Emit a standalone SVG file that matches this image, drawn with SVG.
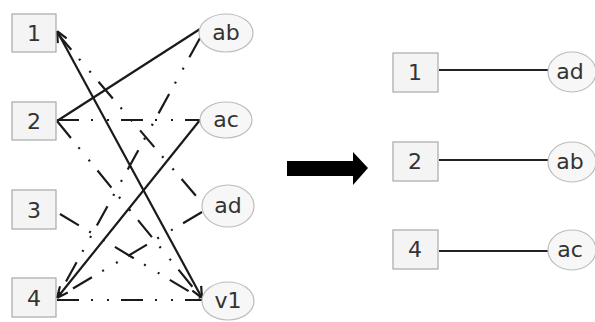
<svg xmlns="http://www.w3.org/2000/svg" width="595" height="322" viewBox="0 0 595 322">
<style>
.box{fill:#f4f4f4;stroke:#a8a8a8;stroke-width:1.2}
.ell{fill:#f7f7f7;stroke:#bcbcbc;stroke-width:1.2}
.t{font-family:"DejaVu Sans","Open Sans",sans-serif;font-size:22px;fill:#333;text-anchor:middle;dominant-baseline:central}
.s{stroke:#1a1a1a;stroke-width:2.2;fill:none}
.d{stroke:#1a1a1a;stroke-width:2.2;fill:none;stroke-dasharray:22 12 2 14 2 12}
.r{stroke:#222;stroke-width:1.8;fill:none}
</style>
<defs>
<marker id="arr" viewBox="0 0 12 12" refX="12" refY="6" markerWidth="12" markerHeight="12" markerUnits="userSpaceOnUse" orient="auto-start-reverse">
<path d="M1,1 L12,6 L1,11" fill="none" stroke="#1a1a1a" stroke-width="2.2"/>
</marker>
</defs>
<g id="connectors">
<line class="s" x1="57" y1="121" x2="200" y2="29"/>
<line class="s" x1="57" y1="31" x2="202" y2="298" marker-start="url(#arr)" marker-end="url(#arr)"/>
<line class="s" x1="200" y1="120" x2="57" y2="298" marker-end="url(#arr)"/>
<line class="d" x1="57" y1="120" x2="200" y2="120"/>
<line class="d" x1="57" y1="33" x2="202" y2="203"/>
<line class="d" x1="57" y1="121" x2="200" y2="296"/>
<line class="d" x1="60" y1="214" x2="200" y2="298"/>
<line class="d" x1="200" y1="38" x2="57" y2="298"/>
<line class="d" x1="202" y1="212" x2="57" y2="298"/>
<line class="d" x1="57" y1="300" x2="202" y2="300"/>
<line class="r" x1="439" y1="70" x2="548" y2="70"/>
<line class="r" x1="439" y1="160" x2="548" y2="160"/>
<line class="r" x1="439" y1="251" x2="548" y2="251"/>
<polygon points="287,161 353,161 353,152 368,168 353,185 353,176 287,176" fill="#000"/>
</g>
<g id="n1"><rect class="box" x="12" y="14" width="44" height="38"/><text class="t" x="34" y="33">1</text></g>
<g id="n2"><rect class="box" x="12" y="102" width="44" height="38"/><text class="t" x="34" y="121">2</text></g>
<g id="n3"><rect class="box" x="12" y="190" width="44" height="39"/><text class="t" x="34" y="210">3</text></g>
<g id="n4"><rect class="box" x="12" y="278" width="44" height="39"/><text class="t" x="34" y="298">4</text></g>
<g id="nab"><ellipse class="ell" cx="226" cy="33" rx="27" ry="19"/><text class="t" x="226" y="32">ab</text></g>
<g id="nac"><ellipse class="ell" cx="226" cy="120" rx="26" ry="18"/><text class="t" x="226" y="119">ac</text></g>
<g id="nad"><ellipse class="ell" cx="228" cy="206" rx="26" ry="21"/><text class="t" x="228" y="205">ad</text></g>
<g id="nv1"><ellipse class="ell" cx="228" cy="301" rx="26" ry="19"/><text class="t" x="228" y="300">v1</text></g>
<g id="r1"><rect class="box" x="393" y="53" width="45" height="39"/><text class="t" x="415" y="72">1</text></g>
<g id="r2"><rect class="box" x="393" y="142" width="45" height="39"/><text class="t" x="415" y="161">2</text></g>
<g id="r4"><rect class="box" x="393" y="230" width="45" height="39"/><text class="t" x="415" y="249">4</text></g>
<g id="rad"><ellipse class="ell" cx="572" cy="72" rx="24" ry="20"/><text class="t" x="570" y="71">ad</text></g>
<g id="rab"><ellipse class="ell" cx="572" cy="162" rx="24" ry="20"/><text class="t" x="570" y="161">ab</text></g>
<g id="rac"><ellipse class="ell" cx="572" cy="250" rx="24" ry="20"/><text class="t" x="570" y="249">ac</text></g>
</svg>
